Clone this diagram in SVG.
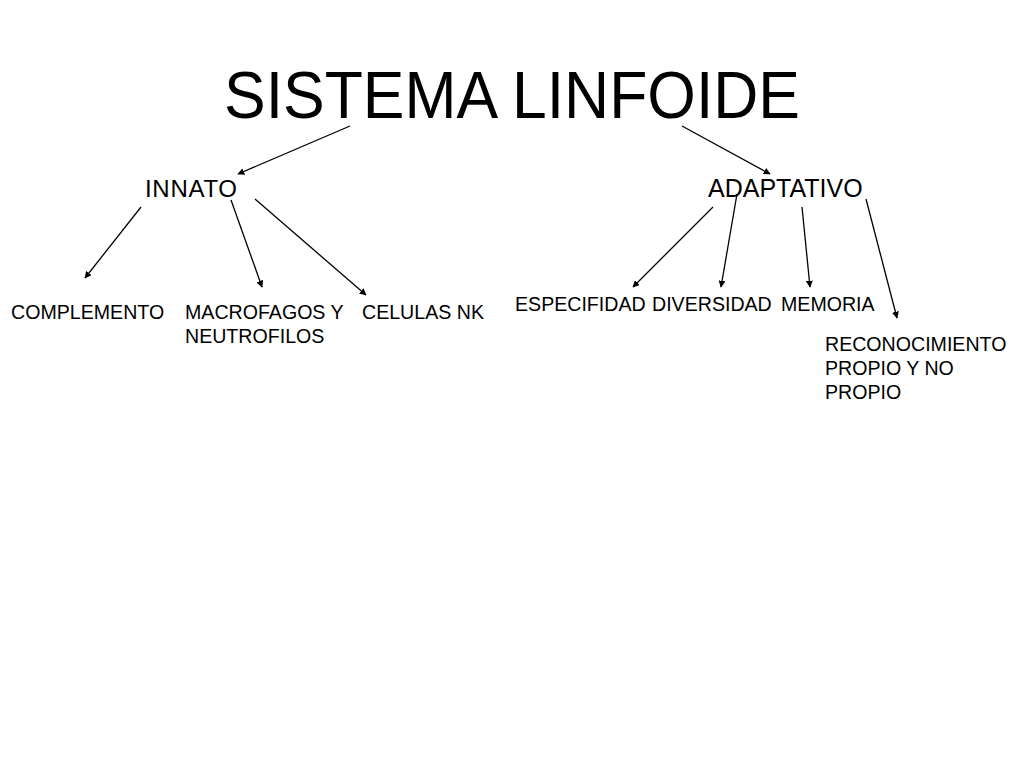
<svg xmlns="http://www.w3.org/2000/svg" width="1024" height="768" viewBox="0 0 1024 768">
<defs>
<style>
text{font-family:"Liberation Sans",Arial,sans-serif;fill:#000}
.t{font-size:67px}
.h{font-size:24px}
.l{font-size:19.6px}
.c line{stroke:#000;stroke-width:1.3;marker-end:url(#a)}
</style>
<marker id="a" viewBox="0 0 10 10" refX="9" refY="5" markerWidth="7" markerHeight="7" orient="auto" markerUnits="userSpaceOnUse">
<path d="M0,0 L10,5 L0,10 z" fill="#000"/>
</marker>
</defs>
<rect width="1024" height="768" fill="#fff"/>
<g id="title"><text class="t" x="224" y="118" textLength="576" lengthAdjust="spacingAndGlyphs">SISTEMA LINFOIDE</text></g>
<g id="innato"><text class="h" x="145" y="197" textLength="92">INNATO</text></g>
<g id="adaptativo"><text class="h" x="708" y="197" style="font-size:25px">ADAPTATIVO</text></g>
<g id="complemento"><text class="l" x="11" y="319">COMPLEMENTO</text></g>
<g id="macrofagos"><text class="l" x="185" y="319">MACROFAGOS Y</text><text class="l" x="185" y="343">NEUTROFILOS</text></g>
<g id="celulas"><text class="l" x="362" y="319">CELULAS NK</text></g>
<g id="especificidad"><text class="l" x="515" y="311">ESPECIFIDAD</text></g>
<g id="diversidad"><text class="l" x="652" y="311">DIVERSIDAD</text></g>
<g id="memoria"><text class="l" x="781" y="311">MEMORIA</text></g>
<g id="reconocimiento"><text class="l" x="825" y="351">RECONOCIMIENTO</text><text class="l" x="825" y="375">PROPIO Y NO</text><text class="l" x="825" y="399">PROPIO</text></g>
<g id="connectors" class="c">
<line x1="350" y1="126" x2="238" y2="174"/>
<line x1="682" y1="126" x2="770" y2="174"/>
<line x1="141" y1="207" x2="85" y2="278"/>
<line x1="231" y1="200" x2="262" y2="287"/>
<line x1="255" y1="199" x2="366" y2="295"/>
<line x1="713" y1="207" x2="633" y2="287"/>
<line x1="737" y1="194" x2="721" y2="287"/>
<line x1="802" y1="207" x2="810" y2="287"/>
<line x1="866" y1="199" x2="897" y2="318"/>
</g>
</svg>
